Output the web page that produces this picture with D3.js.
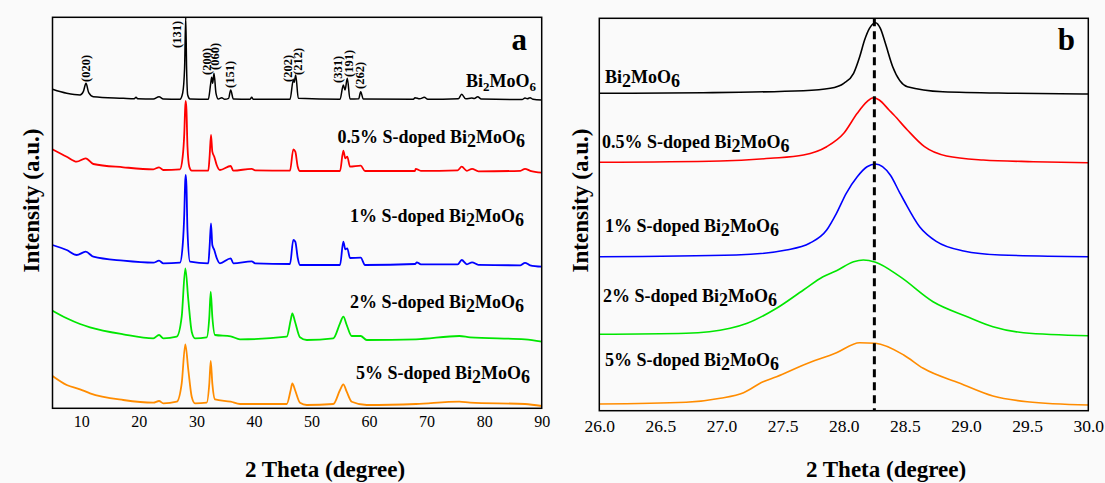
<!DOCTYPE html>
<html>
<head>
<meta charset="utf-8">
<script src="https://cdn.jsdelivr.net/npm/d3@7"></script>
<style>
  html, body { margin: 0; padding: 0; background: #fafafa; }
  svg { display: block; }
  text { font-family: "Liberation Serif", "Times New Roman", serif; fill: #000; }
</style>
</head>
<body>
<svg id="chart" width="1105" height="483"></svg>
<script>
// ---------- Panel a: full XRD patterns, [2θ, intensity (stacked, a.u.)] ----------
const pureBi2MoO6 = [
  [5.0,319],[7.47,315],[9.78,313.3],[10.35,316.6],[10.82,325],[11.29,315.6],[12.09,311.6],[17.3,310],
  [19.2,309.5],[19.51,311],[19.8,309.5],[22.52,309.3],[23.51,311.6],[24.25,309.3],[27.15,309],[27.62,315.3],
  [27.95,340],[28.15,391],[28.3,340],[28.49,313.3],[28.89,309.3],[32.07,309],[32.49,325],[32.66,331],
  [32.84,325],[33.06,335],[33.41,315],[33.81,309.3],[34.4,310.6],[34.92,309],[35.6,310],[35.96,318.3],
  [36.42,309.3],[39.3,309],[39.61,311],[39.9,309],[46.27,309],[46.84,328.3],[47.0,326],[47.26,333.3],
  [47.71,310],[54.96,309],[55.53,323.3],[55.83,318.3],[56.22,330],[56.69,309.3],[58.2,309.5],[58.55,316.6],
  [59.0,309.3],[67.7,309],[67.99,310.6],[68.8,309.5],[69.6,311],[70.2,309],[75.5,309.5],[76.1,314],
  [76.8,309.5],[77.84,310.3],[78.3,309.7],[78.88,311.6],[79.5,309.3],[86.6,308.8],[87.1,310.3],[87.5,309.5],
  [87.97,310.6],[88.5,309],[90.0,308.3]
];
const doped05 = [
  [5.0,259],[7.47,251.6],[9.2,246.6],[10.77,250],[12.09,244.3],[17.3,241],[22.52,239],[23.51,241],
  [24.25,238.3],[27.15,239],[27.62,251.6],[27.9,275],[28.05,300],[28.15,307.3],[28.28,298],[28.45,262],
  [28.77,241.6],[29.19,237.6],[32.07,237.6],[32.3,252],[32.54,273.3],[32.77,256.6],[33.11,251.6],[33.53,243.3],
  [34.1,238.3],[35.96,242.3],[36.42,237.6],[39.61,239.5],[40.2,238],[46.27,237.6],[46.84,259],[47.19,256.6],
  [47.61,241.6],[48.0,237.3],[54.96,237.3],[55.53,257.6],[55.88,250],[56.22,251.6],[56.69,241.6],[58.55,242.6],
  [59.3,237.3],[67.99,237.3],[68.1,239.5],[69,237.5],[75.4,238],[76.1,241.6],[77,237.5],[77.9,239.5],
  [79,237],[86.3,237.5],[87.1,239.5],[88,237.5],[90.0,235.6]
];
const doped1 = [
  [5.0,163.3],[7.47,158.3],[9.2,153.3],[10.77,156.6],[12.09,151.6],[17.3,147.6],[22.52,145.6],[23.51,147.6],
  [24.25,145],[27.15,145.6],[27.62,163],[27.9,195],[28.05,226],[28.15,233.3],[28.28,222],[28.45,178],
  [28.89,146.6],[32.07,145],[32.3,162],[32.54,185],[32.77,163.3],[33.11,158.3],[33.53,150.3],[34.1,145],
  [35.96,150],[36.42,145],[39.61,147],[40.2,145],[46.27,144.3],[46.84,168.3],[47.19,166.6],[47.61,150.3],
  [48.0,143.3],[54.96,143.3],[55.53,166.6],[55.88,159],[56.22,160],[56.69,150.3],[58.55,150.6],[59.3,143.3],
  [67.99,144.3],[68.3,146],[69,144],[75.4,144],[76.1,148.3],[77,144],[77.9,146],[79,143.5],
  [86.3,143],[87.1,145.5],[88,143],[90.0,141.6]
];
const doped2 = [
  [5.0,97.6],[7.47,90],[9.78,84.3],[11.52,81],[17.3,74],[22.52,70],[23.51,73.3],[24.25,70],
  [26.58,71.6],[27.45,91.6],[28.08,140],[28.6,108.3],[29.19,76.6],[29.76,70],[31.79,71],[32.25,91.6],
  [32.49,116.6],[32.77,91.6],[33.24,73.3],[35.96,72],[37.58,69],[45.7,71.6],[46.39,88.3],[46.67,95],
  [47.14,86.6],[48.0,71],[49.17,68.3],[53.79,70],[54.96,85],[55.53,91.6],[56.12,83.3],[56.99,72.3],
  [58.55,72.3],[59.6,68.3],[68.16,69],[75.69,72.3],[77.55,71],[87.1,69],[90.0,66.6]
];
const doped5 = [
  [5.0,32.3],[7.47,23.3],[9.78,19],[11.52,15],[17.3,8.3],[22.52,5.6],[23.51,7.3],[24.25,5],
  [26.58,6.6],[27.45,25],[28.08,64],[28.6,38.3],[29.19,11.6],[29.76,5],[31.79,5.6],[32.25,25],
  [32.49,47.3],[32.77,25],[33.24,9],[35.96,6.6],[37.58,4.3],[45.7,4.3],[46.39,18.3],[46.67,25],
  [47.14,18.3],[48.0,5.6],[49.17,3.3],[53.79,4.3],[54.96,18.3],[55.53,24],[56.12,16.6],[56.99,6.6],
  [59.6,3.3],[68.16,4.3],[75.69,6.6],[77.55,5.6],[87.1,4.3],[90.0,2.3]
];

// Miller indices: [label, 2θ of label, intensity at label foot]
const hklLabels = [
  ["(020)",10.82,326.3],["(131)",26.58,360.3],["(200)",31.79,333.3],["(060)",33.24,338.3],
  ["(151)",35.84,320.3],["(202)",45.92,326.3],["(212)",47.66,333.3],["(331)",54.6,325.3],
  ["(191)",56.5,331.3],["(262)",58.4,319.3]
];

// ---------- Panel b: (131) reflection, 26–30° ----------
const zoomPure = [
  [26.0,317.4],[26.85,318],[27.67,320],[27.89,322.4],[28.0,327.4],[28.08,337.4],[28.13,354],[28.17,370.7],
  [28.21,382.4],[28.26,388],[28.3,382],[28.34,367.4],[28.4,344],[28.52,324],[28.81,319],[29.4,317.5],[30.0,316.7]
];
const zoom05 = [
  [26.0,248.4],[26.99,249.7],[27.4,252.4],[27.67,255.7],[27.86,264],[28.0,277.4],[28.11,297.4],[28.19,309],
  [28.24,313],[28.29,310.7],[28.37,300.7],[28.41,295.7],[28.52,280.7],[28.66,264],[28.84,254.7],[29.14,250.7],
  [29.55,249],[30.0,248]
];
const zoom1 = [
  [26.0,154],[27.12,155.7],[27.53,160.7],[27.72,167.4],[27.86,180.7],[27.94,197.4],[28.02,217.4],[28.11,234],
  [28.19,244],[28.26,246.7],[28.38,235.7],[28.46,217.4],[28.49,210.7],[28.62,184],[28.76,169],[28.98,159.7],
  [29.28,155.7],[30.0,154]
];
const zoom2 = [
  [26.0,76.4],[26.71,77.4],[27.07,82.4],[27.21,87.4],[27.45,102.4],[27.67,120.7],[27.83,134],[27.94,140],
  [28.08,149],[28.16,150.7],[28.26,148.4],[28.46,134],[28.73,109],[29.01,94],[29.22,84],[29.47,78],[30.0,75]
];
const zoom5 = [
  [26.0,6.7],[26.71,8.4],[26.99,12.4],[27.18,18],[27.34,29],[27.45,34],[27.67,45.7],[27.94,58],
  [28.13,68],[28.26,67.4],[28.49,55.7],[28.65,42.4],[28.95,27.4],[29.22,14.7],[29.5,9],[30.0,5.7]
];
const referencePeak = 28.25;

const xTicksA = [10,20,30,40,50,60,70,80,90];
const xTicksB = [26.0,26.5,27.0,27.5,28.0,28.5,29.0,29.5,30.0];

const colors = { pure: "#000000", s05: "#ff0000", s1: "#0000ff", s2: "#00e600", s5: "#ff8c00" };

const svg = d3.select("#chart");

// ---------- frames ----------
const A = { l: 52.5, r: 541.7, t: 17.3, b: 408.3 };
const B = { l: 599.3, r: 1088.3, t: 18.3, b: 410.7 };

const xA = d3.scaleLinear().domain([5, 90]).range([A.l, A.r]);
const yA = d3.scaleLinear().domain([0, 391]).range([A.b, A.t]);
const xB = d3.scaleLinear().domain([26, 30]).range([B.l, B.r]);
const yB = d3.scaleLinear().domain([0, 392.4]).range([B.b, B.t]);

const defs = svg.append("defs");
defs.append("clipPath").attr("id", "clipA").append("rect")
  .attr("x", A.l).attr("y", A.t).attr("width", A.r - A.l).attr("height", A.b - A.t);
defs.append("clipPath").attr("id", "clipB").append("rect")
  .attr("x", B.l).attr("y", B.t).attr("width", B.r - B.l).attr("height", B.b - B.t);

// ---------- panel a curves ----------
const lineA = d3.line().x(d => xA(d[0])).y(d => yA(d[1])).curve(d3.curveMonotoneX);
const gA = svg.append("g").attr("clip-path", "url(#clipA)");
[[doped5, colors.s5],[doped2, colors.s2],[doped1, colors.s1],[doped05, colors.s05],[pureBi2MoO6, colors.pure]]
  .forEach(([data, c]) => {
    gA.append("path").datum(data).attr("d", lineA)
      .attr("fill", "none").attr("stroke", c)
      .attr("stroke-width", c === colors.pure ? 1.5 : 1.8)
      .attr("stroke-linejoin", "round");
  });

// ---------- panel b curves ----------
const lineB = d3.line().x(d => xB(d[0])).y(d => yB(d[1])).curve(d3.curveMonotoneX);
const gB = svg.append("g").attr("clip-path", "url(#clipB)");
[[zoom5, colors.s5],[zoom2, colors.s2],[zoom1, colors.s1],[zoom05, colors.s05],[zoomPure, colors.pure]]
  .forEach(([data, c]) => {
    gB.append("path").datum(data).attr("d", lineB)
      .attr("fill", "none").attr("stroke", c).attr("stroke-width", 1.6);
  });

gB.append("line")
  .attr("x1", xB(referencePeak)).attr("x2", xB(referencePeak))
  .attr("y1", B.t).attr("y2", B.b)
  .attr("stroke", "#000").attr("stroke-width", 3)
  .attr("stroke-dasharray", "8,5");

// ---------- axes ----------
function drawAxis(scale, ticks, y, fmt, size, pad) {
  const g = svg.append("g").attr("transform", `translate(0,${y})`)
    .call(d3.axisBottom(scale).tickValues(ticks).tickFormat(fmt).tickSize(0).tickPadding(pad))
    .attr("font-family", "Liberation Serif")
    .attr("font-size", size);
  g.select(".domain").remove();
  g.selectAll("text").attr("font-family", "Liberation Serif").attr("font-size", size)
    .style("font-family", "'Liberation Serif', serif").style("font-size", size + "px");
}
drawAxis(xA, xTicksA, A.b, d3.format("d"), 16, 7.5);
drawAxis(xB, xTicksB, B.b, d3.format(".1f"), 17.5, 8.5);

// frames on top
[A, B].forEach(f => {
  svg.append("rect").attr("x", f.l).attr("y", f.t)
    .attr("width", f.r - f.l).attr("height", f.b - f.t)
    .attr("fill", "none").attr("stroke", "#000").attr("stroke-width", 1.5);
});

// ---------- titles ----------
svg.append("text").attr("x", 325).attr("y", 477).attr("text-anchor", "middle")
  .style("font-size", "23px").style("font-weight", "bold").text("2 Theta (degree)");
svg.append("text").attr("x", 886).attr("y", 477).attr("text-anchor", "middle")
  .style("font-size", "23px").style("font-weight", "bold").text("2 Theta (degree)");

[[31, 200.5], [580, 200.5]].forEach(([x, y]) => {
  svg.append("text").attr("transform", `translate(${x},${y}) rotate(-90)`)
    .attr("text-anchor", "middle").attr("dominant-baseline", "central")
    .style("font-size", "23px").style("font-weight", "bold").text("Intensity (a.u.)");
});

svg.append("text").attr("x", 527).attr("y", 50).attr("text-anchor", "end")
  .style("font-size", "31px").style("font-weight", "bold").text("a");
svg.append("text").attr("x", 1075).attr("y", 50).attr("text-anchor", "end")
  .style("font-size", "31px").style("font-weight", "bold").text("b");

// ---------- hkl labels ----------
hklLabels.forEach(([lab, t, v]) => {
  svg.append("text")
    .attr("transform", `translate(${xA(t)},${yA(v)}) rotate(-90)`)
    .attr("dominant-baseline", "central")
    .style("font-size", "12.5px").style("font-weight", "bold").text(lab);
});

// ---------- sample labels ----------
function sampleLabel(x, y, anchor, prefix, subSize) {
  const t = svg.append("text").attr("x", x).attr("y", y).attr("text-anchor", anchor)
    .style("font-size", "18px").style("font-weight", "bold");
  t.append("tspan").text(prefix + "Bi");
  t.append("tspan").attr("dy", 4).style("font-size", subSize + "px").text("2");
  t.append("tspan").attr("dy", -4).text("MoO");
  t.append("tspan").attr("dy", 4).style("font-size", subSize + "px").text("6");
}
sampleLabel(536, 87.3, "end", "", 13);
sampleLabel(525, 143.3, "end", "0.5% S-doped ", 18);
sampleLabel(524, 222, "end", "1% S-doped ", 18);
sampleLabel(524, 308.3, "end", "2% S-doped ", 18);
sampleLabel(530, 379.3, "end", "5% S-doped ", 18);

sampleLabel(605, 83.3, "start", "", 18);
sampleLabel(602, 148.3, "start", "0.5% S-doped ", 18);
sampleLabel(605, 231.7, "start", "1% S-doped ", 18);
sampleLabel(603, 301.7, "start", "2% S-doped ", 18);
sampleLabel(605, 366, "start", "5% S-doped ", 18);
</script>
</body>
</html>
